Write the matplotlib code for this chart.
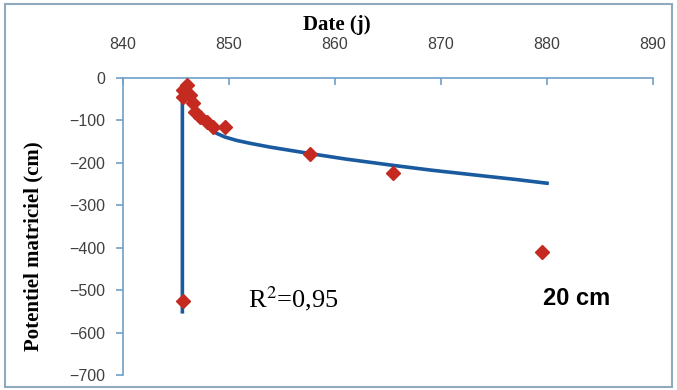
import matplotlib.pyplot as plt
from matplotlib.patches import Rectangle

# measured points (day, potential in cm)
dates = [846.0, 845.7, 846.3, 845.7, 846.6, 846.8, 847.3, 847.9, 848.5, 849.6,
         857.6, 865.5, 879.5, 845.7]
potentiel = [-16, -28, -40, -44, -60, -79, -91, -103, -115, -115,
             -178, -223, -410, -525]

# fitted curve as drawn
fit_dates = [845.6, 845.6, 845.9, 846.2, 846.6, 847.0, 847.5, 847.9, 848.4, 848.8,
             849.6, 850.7, 852.0, 853.9, 857.6, 861.0, 865.5, 869.0, 873.7, 877.0, 880.0]
fit_pot = [-551, -28, -30, -36, -60, -80, -100, -112, -123, -130,
           -139, -147, -154, -163, -178, -191, -206, -217, -230, -239, -248]

xticks = [840, 850, 860, 870, 880, 890]
yticks = [0, -100, -200, -300, -400, -500, -600, -700]

spine_col = '#6fa0c8'
lab_col = '#404040'

fig = plt.figure(figsize=(6.77, 3.9), dpi=100)
ax = fig.add_axes([0.1817, 0.0385, 0.7829, 0.7615])

ax.plot(fit_dates, fit_pot, color='#1a5a9e', lw=2.6, zorder=2, solid_joinstyle='round')
ax.plot(dates, potentiel, 'D', color='#c42a20', ms=7, mec='#c42a20', zorder=3)

ax.set_xlim(840, 890)
ax.set_ylim(-700, 0)
ax.set_xticks(xticks)
ax.set_yticks(yticks)

for s in ['right', 'bottom']:
    ax.spines[s].set_visible(False)
for s in ['left', 'top']:
    ax.spines[s].set_color(spine_col)
    ax.spines[s].set_linewidth(1.2)

ax.xaxis.tick_top()
ax.tick_params(axis='x', direction='in', length=5, width=1.2, color=spine_col,
               labelsize=11.5, labelcolor=lab_col, pad=19)
ax.tick_params(axis='y', direction='out', length=5, width=1.2, color=spine_col,
               labelsize=11.5, labelcolor=lab_col, pad=8)
for lab in ax.get_xticklabels() + ax.get_yticklabels():
    lab.set_family('Liberation Sans')

fig.text(0.497, 0.935, 'Date (j)', family='Liberation Serif', weight='bold',
         fontsize=15, ha='center', va='center')
fig.text(0.049, 0.37, 'Potentiel matriciel (cm)', family='Liberation Serif',
         weight='bold', fontsize=15, rotation=90, ha='center', va='center')

ax.text(851.8, -520, 'R$^2$=0,95', family='Liberation Serif', fontsize=19,
        ha='left', va='center', math_fontfamily='stix')
ax.text(879.6, -520, '20 cm', family='Liberation Sans', weight='bold',
        fontsize=17, ha='left', va='center')

fig.patches.append(Rectangle((0.007, 0.008), 0.986, 0.982, transform=fig.transFigure,
                             fill=False, edgecolor='#8fa9bf', lw=1.5))

fig.savefig('out.png', dpi=100)
